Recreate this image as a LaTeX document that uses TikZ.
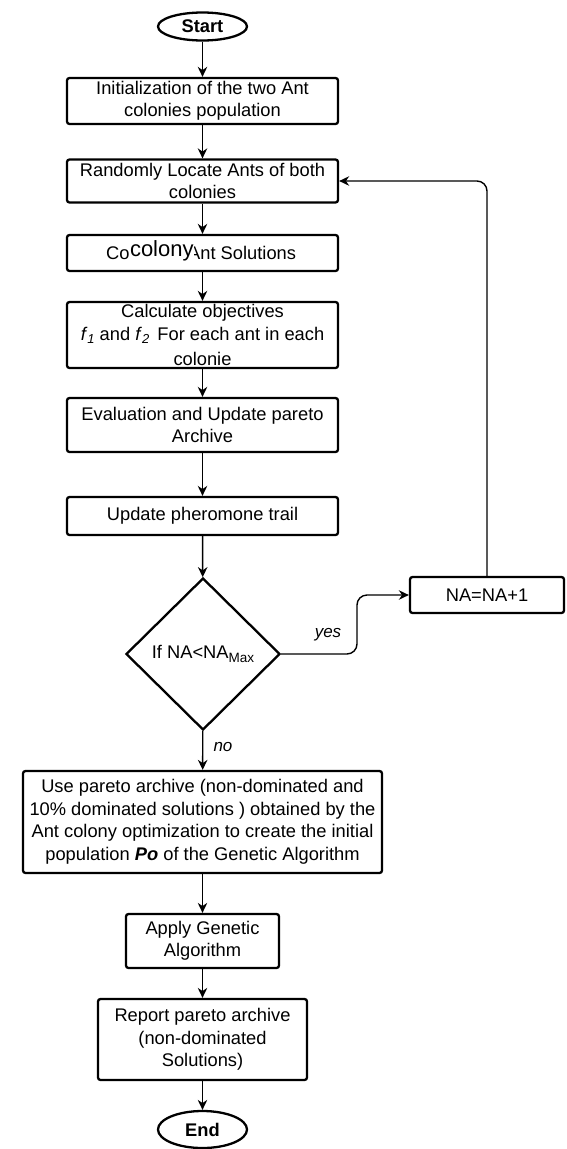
\documentclass[tikz,border=0pt]{standalone}
\usepackage{fontspec}
\setmainfont{Liberation Sans}
\usetikzlibrary{shapes.geometric,arrows.meta}
\begin{document}
\begin{tikzpicture}[x=1pt,y=-1pt,
  box/.style={draw, line width=2.3pt, rounded corners=2.5pt, align=center, inner sep=0pt,
              font=\fontsize{18.3}{22.5}\selectfont},
  term/.style={draw, ellipse, line width=2.3pt, inner sep=0pt, font=\bfseries\fontsize{18.3}{22}\selectfont},
  arr/.style={-{Stealth[length=10pt,width=9.5pt]}, line width=1.4pt},
  lbl/.style={font=\itshape\fontsize{17}{20}\selectfont},
  txt/.style={anchor=base west, inner sep=0pt, font=\fontsize{18.3}{22}\selectfont}]
\useasboundingbox (0,0) rectangle (566,1149);

\node[term, minimum width=89pt, minimum height=28pt] (start) at (202.5,26.5) {Start};
\node[box, minimum width=271pt, minimum height=46pt] (b1) at (202.5,101) {Initialization of the two Ant\\colonies population};
\node[box, minimum width=271pt, minimum height=43pt] (b2) at (202.5,181) {Randomly Locate Ants of both\\colonies};
\node[box, minimum width=271pt, minimum height=36pt] (b3) at (202.5,253) {};
\node[txt] (t3a) at (106,259) {Co};
\node[txt] (t3c) at (188,259) {Ant Solutions};
\node[txt, fill=white, inner sep=0.3pt, font=\fontsize{22}{24}\selectfont] (t3b) at (129.5,256) {colony};
\node[box, minimum width=271pt, minimum height=66pt] (b4) at (202.5,335) {Calculate objectives\\\textit{f}\raisebox{-3pt}{\fontsize{13}{13}\selectfont\itshape 1} and \textit{f}\raisebox{-3pt}{\fontsize{13}{13}\selectfont\itshape 2}\, For each ant in each\\[3pt]colonie};
\node[box, minimum width=271pt, minimum height=54pt] (b5) at (202.5,425) {Evaluation and Update pareto\\Archive};
\node[box, minimum width=271pt, minimum height=38pt] (b6) at (202.5,516) {Update pheromone trail};
\node[draw, diamond, line width=2.3pt, inner sep=0pt, minimum width=154pt, minimum height=152pt,
      font=\fontsize{18.3}{22}\selectfont] (dia) at (203,654) {If NA<NA\raisebox{-4pt}{\fontsize{13.5}{13.5}\selectfont Max}};
\node[box, minimum width=154pt, minimum height=36pt] (na) at (487,595) {NA=NA+1};
\node[box, minimum width=359pt, minimum height=102pt] (b7) at (202.5,822) {Use pareto archive (non-dominated and\\10\% dominated solutions ) obtained by the\\Ant colony optimization to create the initial\\population \textbf{\textit{Po}} of the Genetic Algorithm};
\node[box, minimum width=153pt, minimum height=54pt] (b8) at (202.5,941) {Apply Genetic\\Algorithm};
\node[box, minimum width=209pt, minimum height=81pt] (b9) at (202.5,1039.5) {Report pareto archive\\(non-dominated\\Solutions)};
\node[term, minimum width=89pt, minimum height=37pt] (end) at (202.5,1129.5) {End};

\draw[arr] (start) -- (b1);
\draw[arr] (b1) -- (b2);
\draw[arr] (b2) -- (b3);
\draw[arr] (b3) -- (b4);
\draw[arr] (b4) -- (b5);
\draw[arr] (b5) -- (b6);
\draw[arr] (b6) -- (dia);
\draw[arr] (dia) -- (b7);
\draw[arr] (b7) -- (b8);
\draw[arr] (b8) -- (b9);
\draw[arr] (b9) -- (end);

\coordinate (ybend) at (357,625);
\draw[arr, rounded corners=10pt] (dia.east) -| (ybend) |- (na.west);
\draw[arr, rounded corners=10pt] (na.north) |- (b2.east);

\node[lbl] (yes) at (328,635) {yes};
\node[lbl] (no) at (223,747) {no};
\end{tikzpicture}
\end{document}
